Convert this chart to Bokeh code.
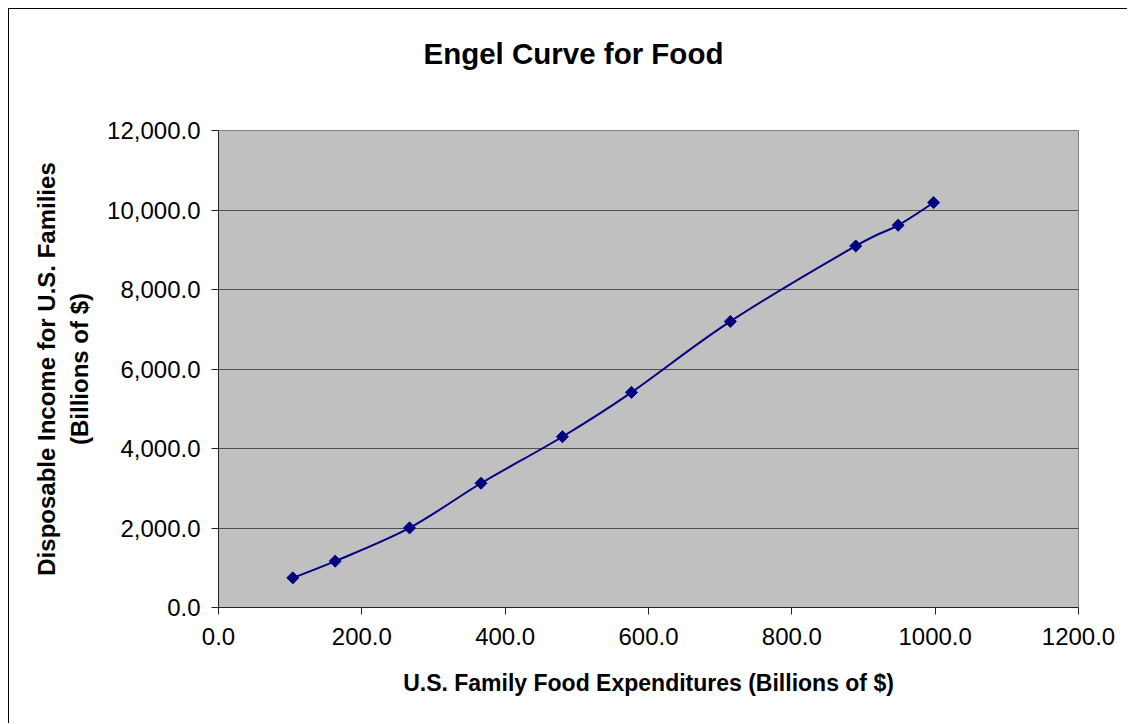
from math import pi

from bokeh.embed import file_html
from bokeh.models import FixedTicker, LinearAxis, NumeralTickFormatter, Range1d
from bokeh.plotting import figure
from bokeh.resources import INLINE

# Engel curve: food expenditures vs. disposable income (billions of $)
expenditures = [103.7, 162.8, 266.6, 366.3, 479.9, 576.3, 714.2, 889.2, 948.3, 997.8]
income = [746, 1166, 2003, 3126, 4296, 5412, 7196, 9095, 9616, 10186]

x_ticks = [0, 200, 400, 600, 800, 1000, 1200]
y_ticks = [0, 2000, 4000, 6000, 8000, 10000, 12000]

title_text = "Engel Curve for Food"
x_label = "U.S. Family Food Expenditures (Billions of $)"
y_label = "Disposable Income for U.S. Families\n(Billions of $)"

FONT = "Liberation Sans"
NAVY = "#000080"

p = figure(width=1119, height=715, output_backend="svg", toolbar_location=None,
           x_range=Range1d(0, 1200), y_range=Range1d(0, 12000),
           min_border_left=209, min_border_right=50,
           min_border_top=121, min_border_bottom=117,
           background_fill_color="#C0C0C0", border_fill_color="white",
           outline_line_color="#808080", outline_line_width=1,
           title=title_text)
p.margin = (8, 0, 0, 8)
p.styles = {"border-left": "1px solid black", "border-top": "1px solid black"}

xax = p.below[0]
yax = p.left[0]

# title
p.title.align = "left"
p.title.offset = 205
p.title.standoff = 10
p.title.text_font = FONT
p.title.text_font_size = "29.5px"
p.title.text_font_style = "bold"
p.title.text_color = "black"

# axes
for ax in (xax, yax):
    ax.axis_line_color = "#222222"
    ax.axis_line_width = 1
    ax.major_tick_line_color = "#222222"
    ax.major_tick_out = 7
    ax.major_tick_in = 0
    ax.minor_tick_line_color = None
    ax.major_label_text_font = FONT
    ax.major_label_text_font_size = "24px"
    ax.major_label_text_color = "black"
    ax.axis_label_text_font = FONT
    ax.axis_label_text_font_style = "bold"
    ax.axis_label_text_color = "black"

xax.ticker = FixedTicker(ticks=x_ticks)
yax.ticker = FixedTicker(ticks=y_ticks)
xax.formatter = NumeralTickFormatter(format="0.0")
yax.formatter = NumeralTickFormatter(format="0,0.0")
xax.major_label_standoff = 13
yax.major_label_standoff = 11

xax.axis_label = x_label
xax.axis_label_text_font_size = "23px"
xax.axis_label_standoff = 22
yax.axis_label = y_label
yax.axis_label_text_font_size = "24px"
yax.axis_label_standoff = 11
yax.axis_label_text_line_height = 1.23

p.xgrid.grid_line_color = None
p.ygrid.ticker = FixedTicker(ticks=y_ticks)
p.ygrid.grid_line_color = "#505050"
p.ygrid.grid_line_width = 1

# blank spacer axis that keeps the title clear of the plot area
spacer = LinearAxis(ticker=FixedTicker(ticks=[0]), major_label_overrides={0: ""},
                    axis_line_color=None, major_tick_line_color=None,
                    minor_tick_line_color=None, major_tick_out=56, major_tick_in=0,
                    minor_tick_out=0, major_label_standoff=0,
                    major_label_text_font_size="1px")
p.add_layout(spacer, "above")

# smoothed curve through the points (cubic Bezier segments, Catmull-Rom style)
n = len(expenditures)
x0, y0, x1, y1, cx0, cy0, cx1, cy1 = ([] for _ in range(8))
for i in range(n - 1):
    a = max(i - 1, 0)
    d = min(i + 2, n - 1)
    x0.append(expenditures[i]); y0.append(income[i])
    x1.append(expenditures[i + 1]); y1.append(income[i + 1])
    cx0.append(expenditures[i] + (expenditures[i + 1] - expenditures[a]) / 6)
    cy0.append(income[i] + (income[i + 1] - income[a]) / 6)
    cx1.append(expenditures[i + 1] - (expenditures[d] - expenditures[i]) / 6)
    cy1.append(income[i + 1] - (income[d] - income[i]) / 6)

p.bezier(x0=x0, y0=y0, x1=x1, y1=y1, cx0=cx0, cy0=cy0, cx1=cx1, cy1=cy1,
         line_color=NAVY, line_width=2)
p.scatter(expenditures, income, marker="square", angle=pi / 4, size=8.5,
          fill_color=NAVY, line_color=NAVY)

open("out.html", "w").write(file_html(p, INLINE))
